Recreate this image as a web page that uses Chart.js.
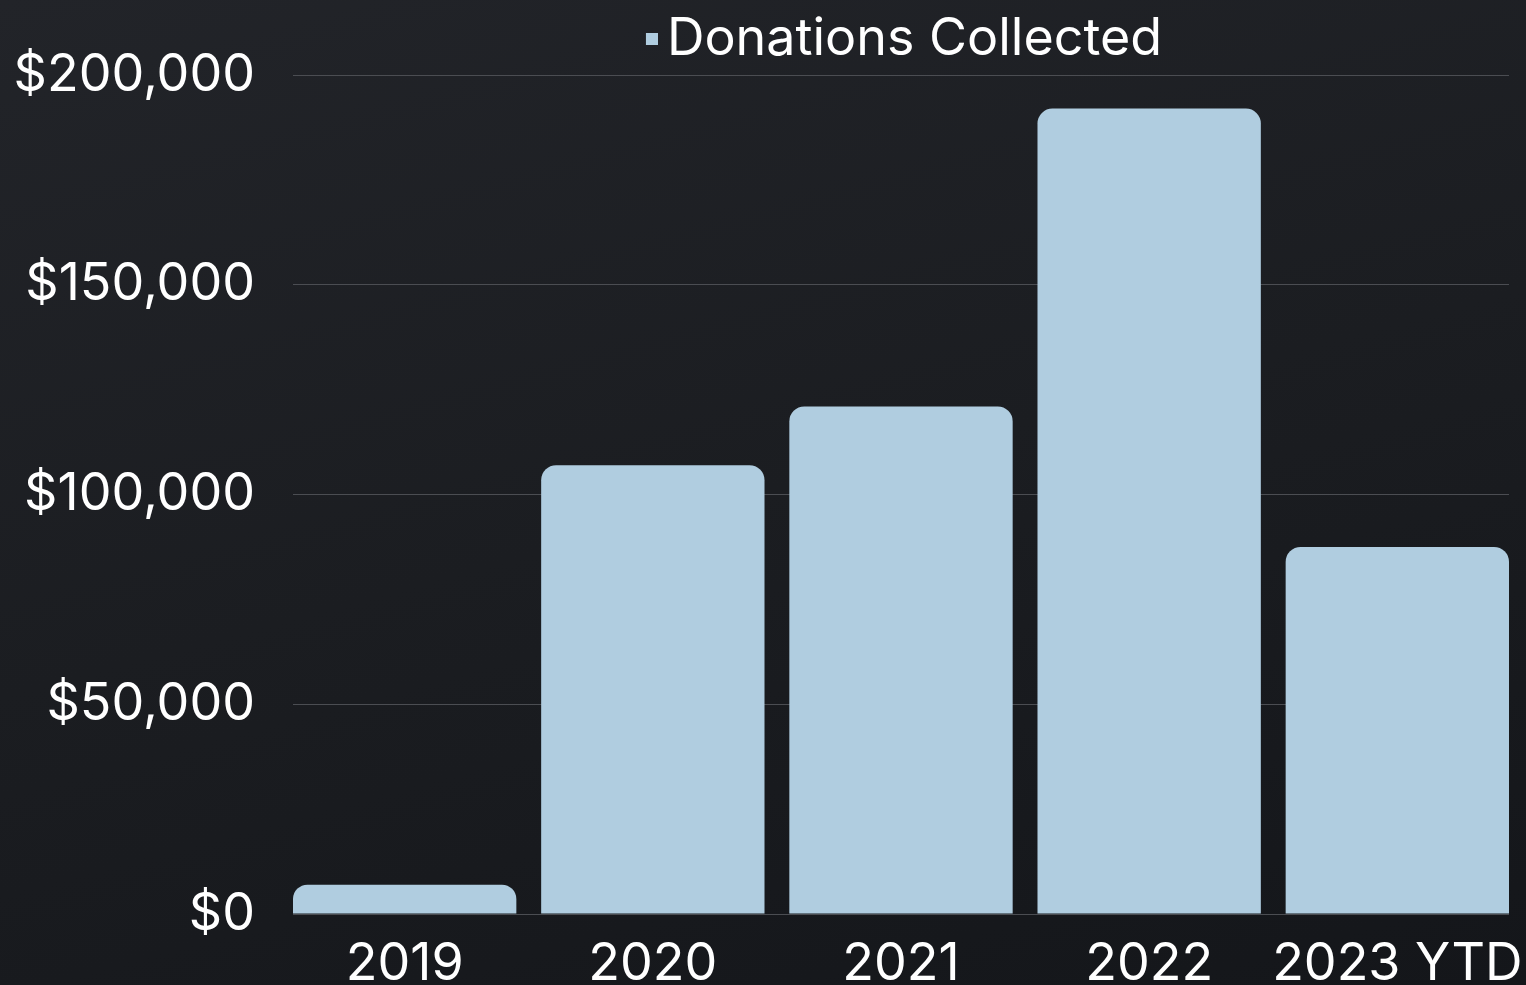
<!DOCTYPE html>
<html>
<head>
<meta charset="utf-8">
<script src="https://cdn.jsdelivr.net/npm/chart.js@4"></script>
<style>
  html, body { margin: 0; padding: 0; width: 1526px; height: 985px; overflow: hidden; }
  body { background: linear-gradient(165deg, #222429 0%, #1b1d21 50%, #14161a 100%); }
  #wrap { position: relative; width: 1526px; height: 985px; }
</style>
</head>
<body>
<div id="wrap"><canvas id="c"></canvas></div>
<script>
const categories = ["2019", "2020", "2021", "2022", "2023 YTD"];
const donations = [7000, 107000, 121000, 192000, 87500];
const yTicks = [0, 50000, 100000, 150000, 200000];
const seriesLabel = "Donations Collected";
const barColor = "#b0cde0";

const points = donations.map((v, i) => ({ x: i, y: v }));

// small square legend marker, placed at the right of its image so it sits close to the text
const marker = document.createElement("canvas");
marker.width = 35; marker.height = 12;
(function () {
  const g = marker.getContext("2d");
  g.fillStyle = barColor;
  g.fillRect(23, 0, 12, 12);
})();

Chart.defaults.font.family = "Inter, 'Noto Sans', sans-serif";
Chart.defaults.color = "#ffffff";

new Chart(document.getElementById("c"), {
  type: "bar",
  data: {
    datasets: [{
      label: seriesLabel,
      data: points,
      backgroundColor: barColor,
      borderWidth: 0,
      borderRadius: 15,
      borderSkipped: "start",
      barPercentage: 0.9,
      categoryPercentage: 1.0
    }]
  },
  options: {
    responsive: true,
    maintainAspectRatio: false,
    animation: false,
    layout: { padding: { left: 0, right: 17, top: 0, bottom: 0 } },
    plugins: {
      legend: {
        display: true,
        fullSize: false,
        labels: {
          color: "#ffffff",
          font: { size: 52 },
          usePointStyle: true,
          pointStyle: marker,
          boxWidth: 1,
          boxHeight: 12,
          padding: 13
        }
      },
      tooltip: { enabled: false }
    },
    scales: {
      x: {
        type: "linear",
        min: -0.45,
        max: 4.45,
        offset: false,
        grid: { display: false, offset: false, drawTicks: false },
        border: { display: false },
        afterFit: (axis) => { axis.height = 71; axis.paddingLeft = 0; axis.paddingRight = 0; },
        ticks: {
          stepSize: 1,
          includeBounds: false,
          autoSkip: false,
          maxRotation: 0,
          minRotation: 0,
          padding: 19,
          color: "#ffffff",
          font: { size: 52 },
          callback: (v) => Number.isInteger(v) ? categories[v] : ""
        }
      },
      y: {
        min: yTicks[0],
        max: yTicks[yTicks.length - 1],
        afterBuildTicks: (axis) => { axis.ticks = yTicks.map(v => ({ value: v })); },
        afterFit: (axis) => { axis.width = 293; },
        grid: { color: "#4b4d52", lineWidth: 1, drawTicks: false },
        border: { display: false },
        ticks: {
          padding: 38,
          color: "#ffffff",
          font: { size: 52 },
          callback: (v) => "$" + Number(v).toLocaleString("en-US")
        }
      }
    }
  }
});
</script>
</body>
</html>
